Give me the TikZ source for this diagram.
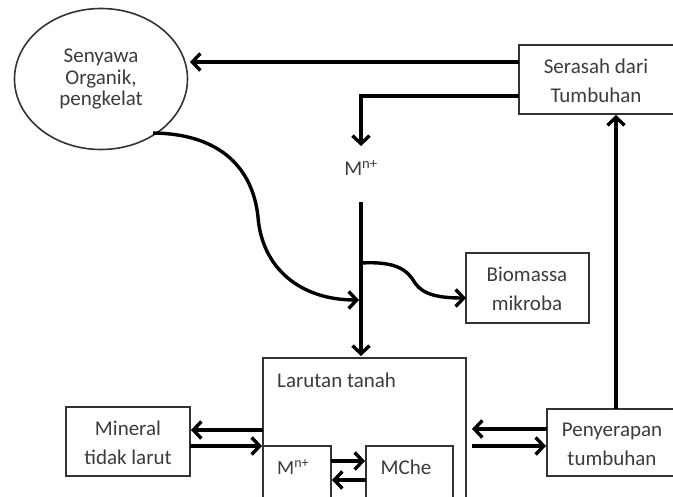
\documentclass[tikz,border=0pt]{standalone}
\usepackage{fontspec}
\setmainfont{Carlito}
\usetikzlibrary{shapes.geometric,arrows.meta}
\definecolor{txt}{HTML}{3C3C3C}
\definecolor{bord}{HTML}{333333}
\tikzset{
  box/.style={draw=bord,line width=1.6pt,fill=white,inner sep=0pt,outer sep=0pt,
    text=txt,align=center,font=\fontsize{21}{29}\selectfont},
  flow/.style={line width=3.4pt,draw=black,-{Straight Barb[length=8pt,width=17pt,line width=3.4pt]}},
  lbl/.style={text=txt,font=\fontsize{21}{29}\selectfont,inner sep=0pt}
}
\begin{document}
\begin{tikzpicture}[x=1pt,y=-1pt]
\useasboundingbox (0,0) rectangle (673,497);
\clip (0,0) rectangle (673,497);
% nodes
\node[box,ellipse,minimum width=173pt,minimum height=141pt,font=\fontsize{21}{21.5}\selectfont] (org) at (101,79) {Senyawa\\Organik,\\pengkelat};
\draw[box] (519,45) rectangle (700,114);
\node[lbl,align=center] (sert) at (596,81) {Serasah dari\\Tumbuhan};
\node[lbl] (mtop) at (361,168) {M\textsuperscript{n+}};
\draw[box] (466,253) rectangle (589,323);
\node[lbl,align=center] (bio) at (527,289) {Biomassa\\mikroba};
\draw[box] (263,358) rectangle (466,520);
\node[lbl,anchor=west] (lar) at (277,380) {Larutan tanah};
\draw[box] (263,446) rectangle (331,520);
\node[lbl,anchor=west,font=\fontsize{20}{22}\selectfont] (min) at (277,467) {M\textsuperscript{n+}};
\draw[box] (366,446) rectangle (453,520);
\node[lbl] (mche) at (406,467) {MChe};
\draw[box] (66,407) rectangle (190,476);
\node[lbl,align=center] (mineral) at (128,443) {Mineral\\tidak larut};
\draw[box] (547,409) rectangle (700,476);
\node[lbl,align=center] (peny) at (612,444) {Penyerapan\\tumbuhan};
% coordinates for connectors
\coordinate (s1) at (519,62);
\coordinate (e1) at (190,62);
\coordinate (s2) at (519,96);
\coordinate (c2) at (361,96);
\coordinate (e2) at (361,146);
\coordinate (v1) at (361,202);
\coordinate (v2) at (361,356);
\coordinate (cs) at (153,133);
\coordinate (cm) at (258,217);
\coordinate (ce) at (359,300);
\coordinate (bs) at (361,263);
\coordinate (bm) at (415,283);
\coordinate (be) at (466,298);
% connectors
\draw[flow] (s1) -- (e1);
\draw[flow] (s2) -- (c2) -- (e2);
\draw[flow] (v1) -- (v2);
\draw[flow] (cs) .. controls (230,134) and (254,178) .. (cm) .. controls (262,268) and (300,300) .. (ce);
\draw[flow] (bs) .. controls (398,261) and (408,271) .. (bm) .. controls (423,295) and (440,298) .. (be);
\draw[flow] (616,409) -- (616,115);
\draw[flow] (263,430) -- (191,430);
\draw[flow] (190,446) -- (262,446);
\draw[flow] (547,429) -- (472,429);
\draw[flow] (472,446) -- (546,446);
\draw[flow] (331,461) -- (365,461);
\draw[flow] (366,480) -- (332,480);
\end{tikzpicture}
\end{document}
